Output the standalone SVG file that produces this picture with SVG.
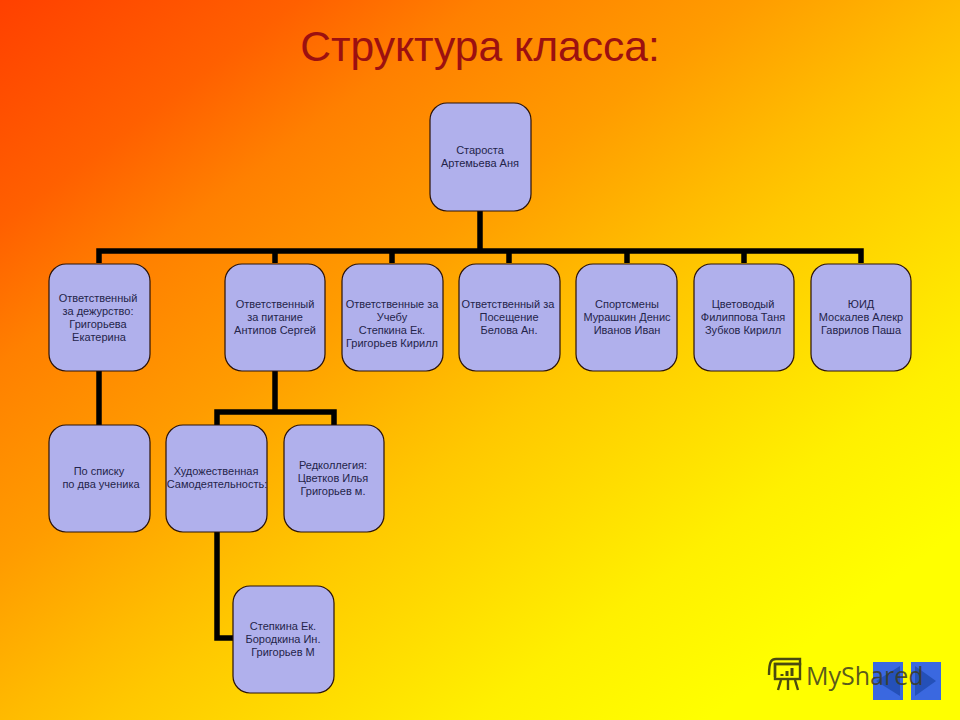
<svg xmlns="http://www.w3.org/2000/svg" width="960" height="720" viewBox="0 0 960 720">
<style>
.n{fill:#b0b0ec;stroke:#2a1208;stroke-width:1.2}
.t{font-family:"Liberation Sans",Arial,sans-serif;font-size:11px;fill:#24244a;text-anchor:middle}
.c{fill:none;stroke:#000;stroke-width:5.5;stroke-linejoin:miter}
</style>
<defs>
<linearGradient id="bg" gradientUnits="userSpaceOnUse" x1="0" y1="0" x2="600" y2="800">
<stop offset="0" stop-color="#ff4000"/>
<stop offset="0.18" stop-color="#ff6000"/>
<stop offset="0.29" stop-color="#ff8000"/>
<stop offset="0.45" stop-color="#ff9c00"/>
<stop offset="0.58" stop-color="#ffbb00"/>
<stop offset="0.64" stop-color="#ffc800"/>
<stop offset="0.86" stop-color="#fff000"/>
<stop offset="1" stop-color="#ffff00"/>
</linearGradient>
</defs>
<rect width="960" height="720" fill="url(#bg)"/>
<text x="480" y="61" font-family="'Liberation Sans',Arial,sans-serif" font-size="42.6" fill="#9c1010" text-anchor="middle">Структура класса:</text>
<g id="connectors">
<path class="c" d="M480 210V251"/>
<path class="c" d="M99 263V251H861V263"/>
<path class="c" d="M275 251V263M392 251V263M509 251V263M627 251V263M744 251V263"/>
<path class="c" d="M99 371V425"/>
<path class="c" d="M275 371V412"/>
<path class="c" d="M217 425V412H334V425"/>
<path class="c" d="M217 532V638H233"/>
</g>
<g id="n0"><rect class="n" x="430" y="103" width="101" height="108" rx="17"/><text class="t" x="480" y="154">Староста</text><text class="t" x="480" y="167">Артемьева Аня</text></g>
<g id="n1"><rect class="n" x="49" y="264" width="101" height="107" rx="17"/><text class="t" x="98" y="302">Ответственный</text><text class="t" x="98" y="315">за дежурство:</text><text class="t" x="98" y="328">Григорьева</text><text class="t" x="99" y="341">Екатерина</text></g>
<g id="n2"><rect class="n" x="225" y="264" width="100" height="107" rx="17"/><text class="t" x="275" y="308">Ответственный</text><text class="t" x="275" y="321">за питание</text><text class="t" x="275" y="334">Антипов Сергей</text></g>
<g id="n3"><rect class="n" x="342" y="264" width="101" height="107" rx="17"/><text class="t" x="392" y="308">Ответственные за</text><text class="t" x="392" y="321">Учебу</text><text class="t" x="392" y="334">Степкина Ек.</text><text class="t" x="392" y="347">Григорьев Кирилл</text></g>
<g id="n4"><rect class="n" x="459" y="264" width="101" height="107" rx="17"/><text class="t" x="508" y="308">Ответственный за</text><text class="t" x="509" y="321">Посещение</text><text class="t" x="509" y="334">Белова Ан.</text></g>
<g id="n5"><rect class="n" x="576" y="264" width="101" height="107" rx="17"/><text class="t" x="627" y="308">Спортсмены</text><text class="t" x="627" y="321">Мурашкин Денис</text><text class="t" x="627" y="334">Иванов Иван</text></g>
<g id="n6"><rect class="n" x="694" y="264" width="100" height="107" rx="17"/><text class="t" x="743" y="308">Цветоводый</text><text class="t" x="743" y="321">Филиппова Таня</text><text class="t" x="743" y="334">Зубков Кирилл</text></g>
<g id="n7"><rect class="n" x="811" y="264" width="100" height="107" rx="17"/><text class="t" x="861" y="308">ЮИД</text><text class="t" x="861" y="321">Москалев Алекр</text><text class="t" x="861" y="334">Гаврилов Паша</text></g>
<g id="n8"><rect class="n" x="49" y="425" width="101" height="107" rx="17"/><text class="t" x="99" y="475">По списку</text><text class="t" x="101" y="488">по два ученика</text></g>
<g id="n9"><rect class="n" x="166" y="425" width="101" height="107" rx="17"/><text class="t" x="216" y="475">Художественная</text><text class="t" x="217" y="488">Самодеятельность:</text></g>
<g id="n10"><rect class="n" x="284" y="425" width="100" height="107" rx="17"/><text class="t" x="333" y="469">Редколлегия:</text><text class="t" x="333" y="482">Цветков Илья</text><text class="t" x="333" y="495">Григорьев м.</text></g>
<g id="n11"><rect class="n" x="233" y="586" width="101" height="107" rx="17"/><text class="t" x="283" y="630">Степкина Ек.</text><text class="t" x="283" y="643">Бородкина Ин.</text><text class="t" x="283" y="656">Григорьев М</text></g>
<rect x="873" y="662" width="30" height="38" fill="#3a68e0"/>
<polygon points="900,666 876,681 900,696" fill="#2450b8"/>
<rect x="911" y="662" width="30" height="38" fill="#3a68e0"/>
<polygon points="915,666 936,681 915,696" fill="#2450b8"/>
<g fill="none" stroke="#4a4a10" stroke-width="2.4">
<path d="M769 675C769 660 772 659 776 659H800V664H775V677"/>
<rect x="775" y="664" width="25" height="15"/>
<path d="M781 680L778 690M788 680V690M795 680L798 690"/>
<path d="M782 676V674M787 676V671M792 676V668" stroke-width="3"/>
</g>
<text x="806" y="685" font-family="'Open Sans','Noto Sans',sans-serif" font-size="25" fill="#3c3c20" fill-opacity="0.85">MyShared</text>
</svg>
